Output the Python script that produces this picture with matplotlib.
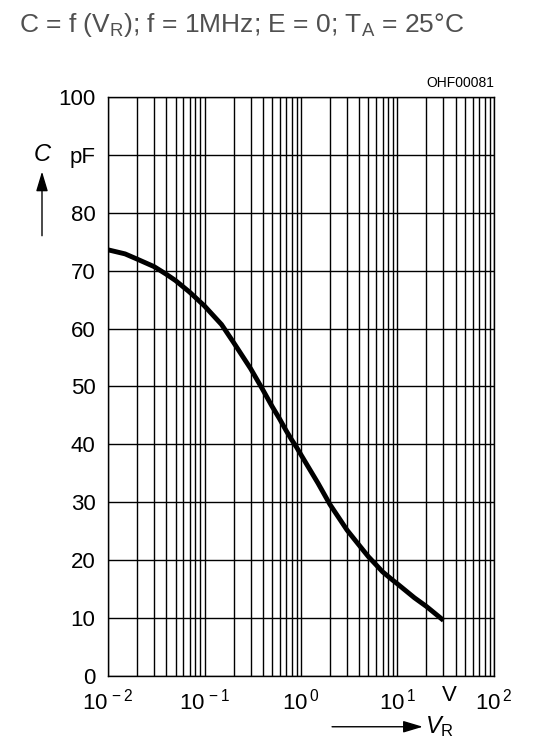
import matplotlib
matplotlib.use("Agg")
import matplotlib.pyplot as plt
from matplotlib.ticker import LogLocator, FixedLocator, NullFormatter

# values
vr = [0.01, 0.015, 0.02, 0.03, 0.04, 0.05, 0.07, 0.1, 0.15, 0.2, 0.3, 0.4, 0.5,
      0.6, 0.7, 0.8, 0.9, 1.0, 1.5, 2, 3, 4, 5, 6, 7, 8, 9, 10, 15, 20, 30]
cap = [73.6, 72.9, 72.0, 70.7, 69.4, 68.3, 66.3, 63.9, 60.7, 57.6, 53.1, 49.5,
       46.6, 44.4, 42.4, 40.8, 39.5, 38.2, 33.3, 29.6, 25.2, 22.6, 20.6, 19.2,
       18.0, 17.2, 16.5, 15.9, 13.5, 12.0, 9.6]

y_ticks = [0, 10, 20, 30, 40, 50, 60, 70, 80, 90, 100]
y_labels = ["0", "10", "20", "30", "40", "50", "60", "70", "80", "pF", "100"]
x_ticks = [1e-2, 1e-1, 1e0, 1e1, 1e2]
x_labels = [r"$\mathregular{10^{\,-2}}$", r"$\mathregular{10^{\,-1}}$",
            r"$\mathregular{10^{\,0}}$", r"$\mathregular{10^{\,1}}$",
            r"$\mathregular{10^{\,2}}$"]

FONT = ["Liberation Sans Narrow", "Liberation Sans", "DejaVu Sans"]
plt.rcParams["font.family"] = FONT
plt.rcParams["mathtext.fontset"] = "custom"
plt.rcParams["mathtext.rm"] = "Liberation Sans"
plt.rcParams["mathtext.it"] = "Liberation Sans:italic"


def main():
    fig = plt.figure(figsize=(5.6, 7.5), dpi=100)
    ax = fig.add_axes([0.193, 0.0987, 0.689, 0.772])

    ax.set_xscale("log")
    ax.set_xlim(1e-2, 1e2)
    ax.set_ylim(0, 100)

    ax.xaxis.set_major_locator(FixedLocator(x_ticks))
    ax.xaxis.set_minor_locator(LogLocator(base=10, subs=range(2, 10)))
    ax.xaxis.set_minor_formatter(NullFormatter())
    ax.set_xticks(x_ticks)
    ax.set_xticklabels(x_labels, fontsize=16)
    ax.set_yticks(y_ticks)
    ax.set_yticklabels(y_labels, fontsize=16)
    ax.tick_params(which="both", length=0, pad=9)

    ax.grid(True, which="both", axis="x", color="black", linewidth=1.0)
    ax.grid(True, which="major", axis="y", color="black", linewidth=1.0)
    for s in ax.spines.values():
        s.set_linewidth(1.0)

    ax.plot(vr, cap, color="black", linewidth=3.5, solid_capstyle="butt",
            solid_joinstyle="round")

    # title and annotations
    fig.text(0.431, 0.967,
             r"C = f (V$_{\mathregular{R}}$); f = 1MHz; E = 0; T$_{\mathregular{A}}$ = 25°C",
             fontsize=19, color="#505050", ha="center", va="center",
             family="Liberation Sans")
    fig.text(0.882, 0.889, "OHF00081", fontsize=10, ha="right", va="center")
    fig.text(0.802, 0.0733, "V", fontsize=16, ha="center", va="center")

    fig.text(0.075, 0.794, "C", fontsize=17, style="italic", ha="center", va="center")
    fig.add_artist(matplotlib.patches.FancyArrowPatch(
        (0.075, 0.682), (0.075, 0.775), transform=fig.transFigure,
        arrowstyle="-|>,head_length=0.6,head_width=0.18", color="black",
        linewidth=1.0, mutation_scale=20))

    fig.text(0.785, 0.031, r"$\mathit{V}_{\mathregular{R}}$", fontsize=17,
             ha="center", va="center")
    fig.add_artist(matplotlib.patches.FancyArrowPatch(
        (0.588, 0.031), (0.76, 0.031), transform=fig.transFigure,
        arrowstyle="-|>,head_length=0.6,head_width=0.18", color="black",
        linewidth=1.0, mutation_scale=20))

    fig.savefig("out.png", dpi=100)


if __name__ == "__main__":
    main()
